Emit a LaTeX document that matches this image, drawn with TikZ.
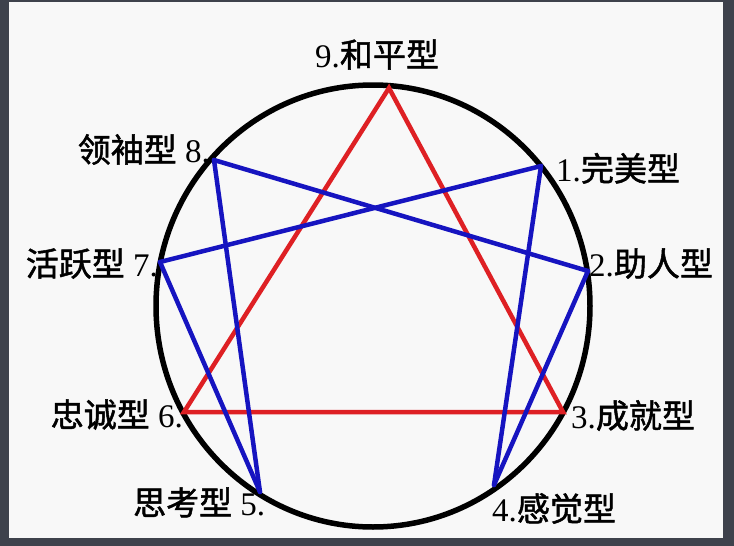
\documentclass[tikz,border=0pt]{standalone}
\usepackage{fontspec}
\setmainfont{Liberation Serif}
\newfontfamily\cjk[FakeBold=1.5]{Noto Sans CJK SC}
\usepackage{tikz}
\usetikzlibrary{positioning,calc}
\definecolor{framegray}{RGB}{62,66,76}
\definecolor{paper}{RGB}{248,248,248}
\definecolor{trired}{RGB}{222,32,36}
\definecolor{hexblue}{RGB}{22,20,192}
\tikzset{
  rim/.style={line width=5.5pt,draw=black},
  triline/.style={line width=4.5pt,draw=trired,line join=miter},
  hexline/.style={line width=4.5pt,draw=hexblue,line join=round,line cap=round},
  typelab/.style={inner sep=0pt,font=\fontsize{33}{35}\selectfont}
}

\begin{document}
\begin{tikzpicture}[x=1pt,y=-1pt]
  \useasboundingbox (0,0) rectangle (734,546);
  \fill[framegray] (0,0) rectangle (734,546);
  \fill[paper] (9,2) rectangle (723,538);

  % the circle
  \draw[rim] (373,306) ellipse [x radius=217,y radius=221];

  % points on the circle
  \coordinate (p9) at (389,88);
  \coordinate (p1) at (541,166);
  \coordinate (p2) at (588,271);
  \coordinate (p3) at (563,412);
  \coordinate (p4) at (494,485);
  \coordinate (p5) at (260,492);
  \coordinate (p6) at (184,412);
  \coordinate (p7) at (160,262);
  \coordinate (p8) at (214,160);

  % inner triangle
  \draw[triline] (p9)--(p3)--(p6)--cycle;

  % hexad 1-4-2-8-5-7
  \foreach \a/\b in {p1/p4,p4/p2,p2/p8,p8/p5,p5/p7,p7/p1}{
    \draw[hexline] (\a)--(\b);
  }

  % labels
  \node[typelab,anchor=base west] (l9) at (315,67) {9.{\cjk 和平型}};
  \node[typelab,anchor=base west] (l1) at (556,181) {1.{\cjk 完美型}};
  \node[typelab,anchor=base west] (l2) at (589,276) {2.{\cjk 助人型}};
  \node[typelab,anchor=base west] (l3) at (571,428) {3.{\cjk 成就型}};
  \node[typelab,anchor=base west] (l4) at (492,521) {4.{\cjk 感觉型}};
  \node[typelab,anchor=base west] (l5) at (133,515) {{\cjk 思考型} 5.};
  \node[typelab,anchor=base east] (l6) at (183,427) {{\cjk 忠诚型} 6.};
  \node[typelab,anchor=base east] (l7) at (158,276) {{\cjk 活跃型} 7.};
  \node[typelab,anchor=base east] (l8) at (210,162) {{\cjk 领袖型} 8.};
\end{tikzpicture}
\end{document}
